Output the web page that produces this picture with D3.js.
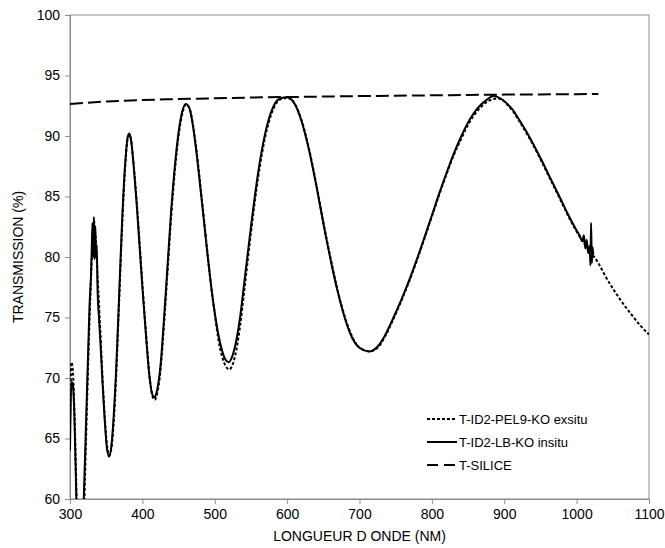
<!DOCTYPE html>
<html>
<head>
<meta charset="utf-8">
<script src="https://cdn.jsdelivr.net/npm/d3@7"></script>
<style>
  body { margin: 0; background: #fff; }
  svg { display: block; font-family: "Liberation Sans", Arial, sans-serif; }
</style>
</head>
<body>
<svg id="chart" width="665" height="548"></svg>
<script>
// ---- data ----
const xTicks = [300, 400, 500, 600, 700, 800, 900, 1000, 1100];
const yTicks = [60, 65, 70, 75, 80, 85, 90, 95, 100];

const insituWl = [300,302,304,306,308,310,313,316,319,322,325,327,329,330,331,332,333,334,335,336,337,338,340,342,345,348,351,354,357,360,364,368,372,376,380,382,384,388,392,396,400,405,410,414,417,420,425,430,435,440,445,450,455,460,465,470,475,480,485,490,495,500,505,510,515,519,523,528,535,540,550,560,570,580,590,600,610,620,630,640,650,660,670,680,690,700,714,725,735,747,758,770,781,793,802,811,820,830,840,848,858,868,877,885,895,905,912,920,935,949,963,977,990,1000,1004,1008,1010,1012,1014,1016,1018,1019,1020,1021,1022,1023];
const insituT  = [64,69.7,69.4,67,62,57,54,56,60,66,72,76,78.5,80.5,82.8,80,83.3,79.8,82.5,80,81,77.5,75,73,69.5,66.5,64.2,63.5,64.3,66.5,71,77,83,87.5,90,90.2,89.8,87.5,84.5,81,77.5,73.5,70,68.6,68.4,68.9,71,75,79.5,84,87.6,90.3,92,92.65,92.3,90.8,88.5,85.8,83,80.2,77.6,75.4,73.6,72.3,71.5,71.3,71.6,72.6,75,77.5,82.5,87,90.3,92.3,93.1,93.2,92.7,91.2,88.9,86,82.8,79.8,77.1,74.9,73.3,72.5,72.2,72.6,73.5,75,76.5,78.3,80.1,82.2,83.8,85.4,86.9,88.5,89.9,90.9,91.9,92.6,93.05,93.3,93.1,92.6,92.15,91.4,89.9,88.3,86.6,84.9,83.3,82.2,81.8,81.3,81.8,80.7,81.4,80.3,80.9,79.3,82.8,79.5,80.8,80.2];

const exsituWl = [300,302,304,306,308,310,313,316,319,322,325,328,331,333,335,338,341,345,348,351,354,357,360,364,368,372,376,380,382,384,388,392,396,400,405,410,414,417,420,425,430,435,440,445,450,455,460,465,470,475,480,485,490,495,500,505,510,515,520,524,528,535,540,550,560,570,580,590,600,610,620,630,640,650,660,670,680,690,700,714,725,735,747,758,770,781,793,802,811,820,830,840,848,858,868,877,885,890,895,905,912,920,935,949,963,977,990,1004,1018,1030,1039,1050,1060,1075,1090,1100];
const exsituT  = [66,71.3,70.5,67.5,63,58,54,55.5,58.5,64.5,71,76.5,81,83,82,78.5,75,70,66.8,64.5,63.6,64.1,66,70.5,76.5,82.5,87.2,89.9,90.1,89.8,87.6,84.7,81.3,77.8,73.7,70.1,68.5,68.2,68.6,70.6,74.5,79,83.5,87.2,90,91.8,92.6,92.3,90.9,88.7,86,83.2,80.3,77.6,75.3,73.2,71.8,71,70.7,71,71.8,74.3,76.8,82,86.6,90,92.1,93,93.15,92.7,91.3,89,86.1,82.9,79.9,77.2,75,73.4,72.5,72.2,72.5,73.4,74.9,76.4,78.2,80,82.1,83.7,85.3,86.8,88.4,89.7,90.7,91.7,92.4,92.85,93.05,93.1,93.05,92.55,92.05,91.3,89.8,88.2,86.5,84.8,83.2,81.7,80.5,79.5,78.5,77.4,76.5,75.3,74.2,73.6];

const siliceWl = [300,350,400,450,500,550,600,650,700,750,800,850,900,950,1000,1030];
const siliceT  = [92.65,92.85,92.97,93.05,93.12,93.18,93.22,93.26,93.3,93.33,93.36,93.39,93.42,93.44,93.46,93.47];

const seriesNames = ["T-ID2-PEL9-KO exsitu", "T-ID2-LB-KO insitu", "T-SILICE"];

// ---- layout ----
const svg = d3.select("#chart");
const W = 665, H = 548;
const m = {left: 70, right: 16, top: 15, bottom: 49};
const iw = W - m.left - m.right, ih = H - m.top - m.bottom;

const x = d3.scaleLinear().domain([300, 1100]).range([m.left, m.left + iw]);
const y = d3.scaleLinear().domain([60, 100]).range([m.top + ih, m.top]);

svg.append("defs").append("clipPath").attr("id", "clip")
  .append("rect").attr("x", m.left).attr("y", m.top).attr("width", iw).attr("height", ih);

// frame
svg.append("rect").attr("x", m.left).attr("y", m.top).attr("width", iw).attr("height", ih)
  .attr("fill", "none").attr("stroke", "#8c8c8c").attr("stroke-width", 1);

// axes
const xAxis = svg.append("g").attr("transform", `translate(0,${m.top + ih})`)
  .call(d3.axisBottom(x).tickValues(xTicks).tickSize(5).tickPadding(5).tickFormat(d3.format("d")));
const yAxis = svg.append("g").attr("transform", `translate(${m.left},0)`)
  .call(d3.axisLeft(y).tickValues(yTicks).tickSize(5).tickPadding(5).tickFormat(d3.format("d")));
[xAxis, yAxis].forEach(g => {
  g.select(".domain").attr("stroke", "#8c8c8c");
  g.selectAll(".tick line").attr("stroke", "#8c8c8c");
  g.selectAll(".tick text").attr("fill", "#000").style("font-size", "14px")
    .style("font-family", "'Liberation Sans', Arial, sans-serif");
});

// titles
svg.append("text").attr("x", m.left + iw / 2 + 0).attr("y", 541)
  .attr("text-anchor", "middle").style("font-size", "14px").text("LONGUEUR D ONDE (NM)");
svg.append("text").attr("transform", `translate(23,${m.top + ih / 2}) rotate(-90)`)
  .attr("text-anchor", "middle").style("font-size", "14px").text("TRANSMISSION (%)");

// lines
const line = d3.line().x(d => x(d[0])).y(d => y(d[1])).curve(d3.curveMonotoneX);
const plot = svg.append("g").attr("clip-path", "url(#clip)");

const zip = (a, b) => a.map((v, i) => [v, b[i]]);

plot.append("path").datum(zip(siliceWl, siliceT)).attr("d", line)
  .attr("fill", "none").attr("stroke", "#000").attr("stroke-width", 2).attr("stroke-dasharray", "13,5");
plot.append("path").datum(zip(insituWl, insituT)).attr("d", line)
  .attr("fill", "none").attr("stroke", "#000").attr("stroke-width", 2);
plot.append("path").datum(zip(exsituWl, exsituT)).attr("d", line)
  .attr("fill", "none").attr("stroke", "#000").attr("stroke-width", 2).attr("stroke-dasharray", "3,2");

// legend
const dashes = ["3,2", null, "11,6"];
const legY = [419, 442, 465];
const leg = svg.append("g");
seriesNames.forEach((name, i) => {
  leg.append("line").attr("x1", 427).attr("x2", 457).attr("y1", legY[i]).attr("y2", legY[i])
    .attr("stroke", "#000").attr("stroke-width", 2).attr("stroke-dasharray", dashes[i]);
  leg.append("text").attr("x", 459).attr("y", legY[i] + 4.5).style("font-size", "13px").text(name);
});
</script>
</body>
</html>
